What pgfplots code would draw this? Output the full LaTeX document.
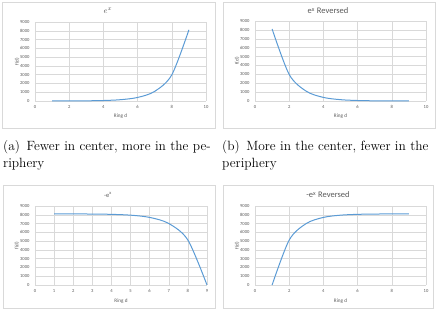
\documentclass[border=0pt]{standalone}
\usepackage{pgfplots}
\pgfplotsset{compat=1.18}
\usepackage{fontspec}
\newfontfamily\chartfont{Carlito}
\definecolor{xlblue}{RGB}{91,155,213}
\definecolor{xlgrid}{RGB}{217,217,217}
\definecolor{xltext}{RGB}{89,89,89}
\pgfplotsset{
  xlstyle/.style={
    scale only axis,
    axis line style={draw=none},
    tick style={draw=none},
    grid=major,
    major grid style={xlgrid, line width=0.5pt},
    ymin=0, ymax=9000, ytick={0,1000,...,9000},
    ymin=0, xmin=0,
    tick label style={font=\chartfont\fontsize{4.6}{5}\selectfont, text=xltext},
    /pgf/number format/assume math mode=true,
    /pgf/number format/1000 sep={},
    xticklabel style={yshift=-1pt},
    yticklabel style={xshift=-2pt},
    xlabel={Ring d}, ylabel={f(d)},
    every axis x label/.style={at={(axis description cs:0.5,-0.19)}, anchor=center, font=\chartfont\fontsize{5.2}{6}\selectfont, text=xltext},
    every axis y label/.style={at={(axis description cs:-0.105,0.5)}, rotate=90, anchor=center, font=\chartfont\fontsize{5.2}{6}\selectfont, text=xltext},
    clip=false,
  },
  xlline/.style={xlblue, line width=1pt, smooth, no markers},
}
\begin{document}
\begin{tikzpicture}
\path (0pt,0pt) rectangle (439pt,313pt);
% chart boxes
\draw[xlgrid, line width=0.5pt] (2pt,185pt) rectangle (215pt,311pt);
\draw[xlgrid, line width=0.5pt] (223pt,185pt) rectangle (435pt,311pt);
\draw[xlgrid, line width=0.5pt] (3pt,5pt) rectangle (215pt,128pt);
\draw[xlgrid, line width=0.5pt] (223pt,5pt) rectangle (433pt,128pt);
% titles
\node[font=\chartfont\fontsize{8.5}{9}\selectfont, text=xltext] at (108pt,302pt) {$e^{x}$};
\node[font=\chartfont\fontsize{8.5}{9}\selectfont, text=xltext] at (328pt,302pt) {e\textsuperscript{x} Reversed};
\node[font=\chartfont\fontsize{6.5}{8}\selectfont, text=xltext] at (108pt,118pt) {-e\textsuperscript{x}};
\node[font=\chartfont\fontsize{8.5}{9}\selectfont, text=xltext] at (328pt,118pt) {-e\textsuperscript{x} Reversed};
% captions
\node[anchor=north west, align=left, inner sep=0pt, font=\fontsize{13.4}{17}\selectfont] at (3pt,173pt) {(a)\, Fewer in center, more in the pe-\\riphery};
\node[anchor=north west, align=left, inner sep=0pt, font=\fontsize{13.4}{17}\selectfont] at (222pt,173pt) {(b)\, More in the center, fewer in the\\periphery};

\begin{axis}[xlstyle, at={(35pt,212pt)}, anchor=south west, width=171pt, height=79pt,
  xmax=10, xtick={0,2,...,10}]
\addplot[xlline] coordinates {(1,2.718) (2,7.389) (3,20.09) (4,54.6) (5,148.4) (6,403.4) (7,1096.6) (8,2981) (9,8103.1)};
\end{axis}

\begin{axis}[xlstyle, at={(255pt,212pt)}, anchor=south west, width=171pt, height=80pt,
  xmax=10, xtick={0,2,...,10}]
\addplot[xlline] coordinates {(1,8103.1) (2,2981) (3,1096.6) (4,403.4) (5,148.4) (6,54.6) (7,20.09) (8,7.389) (9,2.718)};
\end{axis}

\begin{axis}[xlstyle, at={(35pt,28pt)}, anchor=south west, width=172pt, height=79pt,
  xmax=9, xtick={0,1,...,9},
  every axis x label/.append style={at={(axis description cs:0.5,-0.2)}}]
\addplot[xlline] coordinates {(1,8100.4) (2,8095.7) (3,8083) (4,8048.5) (5,7954.7) (6,7699.7) (7,7006.5) (8,5122) (9,0)};
\end{axis}

\begin{axis}[xlstyle, at={(255pt,28pt)}, anchor=south west, width=171pt, height=79pt,
  xmax=10, xtick={0,2,...,10},
  every axis x label/.append style={at={(axis description cs:0.5,-0.2)}}]
\addplot[xlline] coordinates {(1,0) (2,5122) (3,7006.5) (4,7699.7) (5,7954.7) (6,8048.5) (7,8083) (8,8095.7) (9,8100.4)};
\end{axis}
\end{tikzpicture}
\end{document}
